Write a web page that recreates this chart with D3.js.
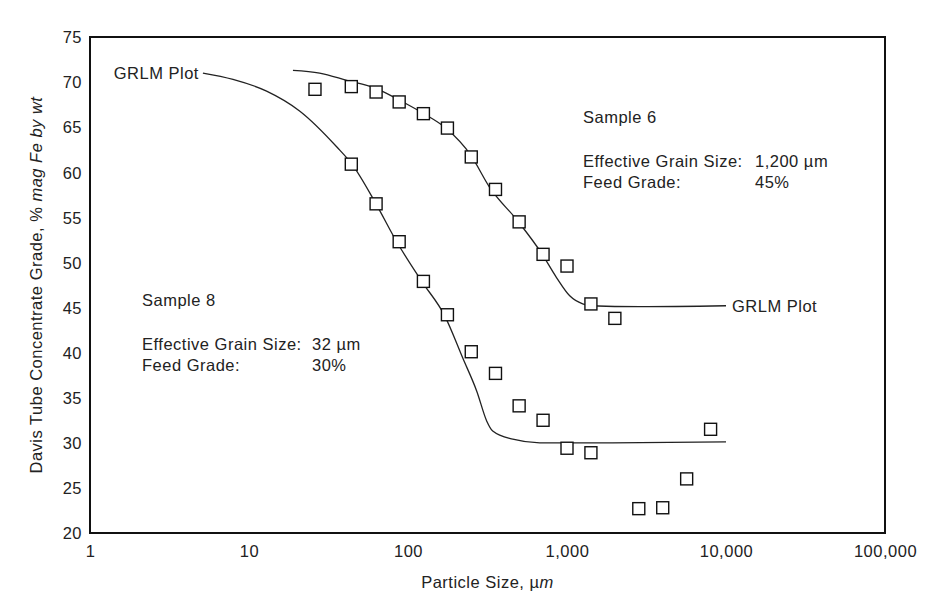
<!DOCTYPE html>
<html><head><meta charset="utf-8">
<script src="https://cdn.jsdelivr.net/npm/d3@7"></script>
<style>
body{margin:0;background:#fff;}
text{font-family:"Liberation Sans",Arial,sans-serif;fill:#222;}
</style></head>
<body><svg id="c" width="929" height="608"></svg>
<script>
// Sample 6 measured points (particle size µm, grade %)
const s6Size = [26, 44, 63, 88, 125, 177, 250, 355, 500, 707, 1000, 1414, 2000];
const s6Grade = [69.2, 69.5, 68.9, 67.8, 66.5, 64.9, 61.7, 58.1, 54.5, 50.9, 49.6, 45.4, 43.8];
// Sample 8 measured points
const s8Size = [44, 63, 88, 125, 177, 250, 355, 500, 707, 1000, 1414, 2828, 4000, 5657, 8000];
const s8Grade = [60.9, 56.5, 52.3, 47.9, 44.2, 40.1, 37.7, 34.1, 32.5, 29.4, 28.9, 22.7, 22.8, 26.0, 31.5];
// GRLM fitted curves
const c6Size = [18.9, 27.8, 41.2, 62.9, 86.1, 123, 173, 248, 327, 490, 693, 861, 1040, 1255, 1390, 2865, 10000];
const c6Grade = [71.3, 71.0, 70.2, 69.3, 68.1, 66.6, 64.9, 61.9, 58.3, 54.6, 51.0, 48.3, 46.3, 45.4, 45.2, 45.1, 45.2];
const c8Size = [5.13, 7.93, 12.9, 20.8, 35.7, 44.4, 62.9, 84.9, 122, 170, 221, 271, 313, 341, 456, 674, 1600, 10000];
const c8Grade = [71.0, 70.3, 69.0, 66.8, 62.8, 60.9, 56.5, 52.3, 47.9, 44.1, 39.4, 35.7, 32.4, 31.3, 30.4, 30.0, 30.0, 30.1];
// Axis ticks
const xTicks = [1, 10, 100, 1000, 10000, 100000];
const xTickLabels = ["1", "10", "100", "1,000", "10,000", "100,000"];
const yTicks = [20, 25, 30, 35, 40, 45, 50, 55, 60, 65, 70, 75];

const svg = d3.select("#c");
const L = 90, R = 885, T = 37, B = 533;
const x = d3.scaleLog().domain([1, 100000]).range([L, R]);
const y = d3.scaleLinear().domain([20, 75]).range([B, T]);

const fs = "16.5px", ls = "0.5px";

// frame
svg.append("rect").attr("x", L).attr("y", T).attr("width", R - L).attr("height", B - T)
  .attr("fill", "none").attr("stroke", "#111").attr("stroke-width", 2);

// x tick labels
const xAxis = d3.axisBottom(x).tickValues(xTicks).tickSize(0).tickFormat((d, i) => xTickLabels[i]);
const gx = svg.append("g").attr("transform", `translate(0,${B})`).call(xAxis);
gx.select(".domain").remove();
gx.selectAll("text").attr("dy", null).attr("y", 24).style("font-size", fs).style("letter-spacing", ls)
  .style("fill", "#222");

// y tick labels
const yAxis = d3.axisLeft(y).tickValues(yTicks).tickSize(0).tickFormat(d3.format("d"));
const gy = svg.append("g").attr("transform", `translate(${L},0)`).call(yAxis);
gy.select(".domain").remove();
gy.selectAll("text").attr("x", -8).attr("dy", "0.35em").style("font-size", fs).style("letter-spacing", ls)
  .style("fill", "#222");

// curves
const line = d3.line().x(d => x(d[0])).y(d => y(d[1])).curve(d3.curveMonotoneX);
const c6 = c6Size.map((s, i) => [s, c6Grade[i]]);
const c8 = c8Size.map((s, i) => [s, c8Grade[i]]);
[c6, c8].forEach(c => svg.append("path").attr("d", line(c)).attr("fill", "none")
  .attr("stroke", "#222").attr("stroke-width", 1.3));

// points
const pts = s6Size.map((s, i) => [s, s6Grade[i]]).concat(s8Size.map((s, i) => [s, s8Grade[i]]));
const sq = 12;
svg.append("g").selectAll("rect").data(pts).join("rect")
  .attr("x", d => x(d[0]) - sq / 2).attr("y", d => y(d[1]) - sq / 2)
  .attr("width", sq).attr("height", sq).attr("fill", "#fff")
  .attr("stroke", "#111").attr("stroke-width", 1.4);

// annotation text
function txt(xp, yp, s, anchor) {
  return svg.append("text").attr("x", xp).attr("y", yp).attr("text-anchor", anchor || "start")
    .style("font-size", fs).style("letter-spacing", ls).text(s);
}
txt(x(c8Size[0]) - 4, y(c8Grade[0]) + 6, "GRLM Plot", "end");
txt(x(c6Size[c6Size.length - 1]) + 6, y(c6Grade[c6Grade.length - 1]) + 6, "GRLM Plot");

txt(583, 123, "Sample 6");
txt(583, 167, "Effective Grain Size:");
txt(755, 167, "1,200 µm");
txt(583, 188, "Feed Grade:");
txt(755, 188, "45%");

txt(142, 306, "Sample 8");
txt(142, 350, "Effective Grain Size:");
txt(312, 350, "32 µm");
txt(142, 371, "Feed Grade:");
txt(312, 371, "30%");

// axis titles
const xt = svg.append("text").attr("x", (L + R) / 2).attr("y", 588).attr("text-anchor", "middle")
  .style("font-size", fs).style("letter-spacing", ls);
xt.append("tspan").text("Particle Size, µ");
xt.append("tspan").style("font-style", "italic").text("m");

const yt = svg.append("text").attr("transform", `translate(42,${(T + B) / 2}) rotate(-90)`)
  .attr("text-anchor", "middle").style("font-size", fs).style("letter-spacing", ls);
yt.append("tspan").text("Davis Tube Concentrate Grade, % ");
yt.append("tspan").style("font-style", "italic").text("mag Fe by wt");
</script></body></html>
